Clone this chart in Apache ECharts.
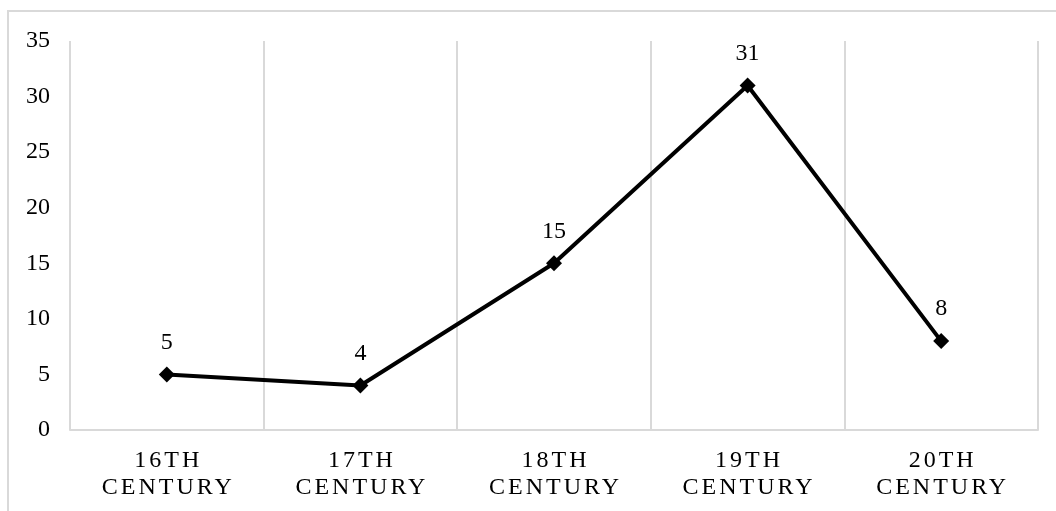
<!DOCTYPE html>
<html>
<head>
<meta charset="utf-8">
<script src="https://cdn.jsdelivr.net/npm/echarts@6/dist/echarts.min.js"></script>
<style>
  html, body { margin: 0; padding: 0; background: #fff; }
  #chart { width: 1056px; height: 511px; }
</style>
</head>
<body>
<div id="chart"></div>
<script>
// Works counted per century
const categories = ['16TH\nCENTURY', '17TH\nCENTURY', '18TH\nCENTURY', '19TH\nCENTURY', '20TH\nCENTURY'];
const counts = [5, 4, 15, 31, 8];
const yMin = 0;
const yMax = 35;
const yStep = 5;

const FONT = '"Liberation Serif", serif';
const GRID_COLOR = '#d9d9d9';

// Category names are drawn with wider letter spacing; numbers keep normal spacing
const SPACING = 3;
const baseFillText = CanvasRenderingContext2D.prototype.fillText;
CanvasRenderingContext2D.prototype.fillText = function (text, x, y) {
  if (/[A-Z]/.test(String(text)) && 'letterSpacing' in this) {
    this.letterSpacing = SPACING + 'px';
    const shift = this.textAlign === 'center' ? SPACING / 2 : 0;
    if (arguments.length > 3 && arguments[3] != null) {
      baseFillText.call(this, text, x + shift, y, arguments[3]);
    } else {
      baseFillText.call(this, text, x + shift, y);
    }
    this.letterSpacing = '0px';
    return;
  }
  if ('letterSpacing' in this && this.letterSpacing && this.letterSpacing !== '0px') {
    this.letterSpacing = '0px';
  }
  return baseFillText.apply(this, arguments);
};

const chart = echarts.init(document.getElementById('chart'), null, { renderer: 'canvas' });

chart.setOption({
  animation: false,
  backgroundColor: '#fff',
  graphic: [{
    type: 'rect',
    shape: { x: 8, y: 11, width: 1200, height: 700 },
    style: { fill: 'none', stroke: GRID_COLOR, lineWidth: 2 },
    silent: true,
    z: -10
  }],
  grid: { left: 70, right: 18, top: 41, bottom: 81, outerBoundsMode: 'none', containLabel: false },
  xAxis: {
    type: 'category',
    data: categories,
    boundaryGap: true,
    axisLine: { show: true, lineStyle: { color: GRID_COLOR, width: 2 } },
    axisTick: { show: false },
    splitLine: { show: true, lineStyle: { color: GRID_COLOR, width: 2 } },
    axisLabel: {
      color: '#000',
      fontFamily: FONT,
      fontSize: 24,
      lineHeight: 27,
      margin: 17,
      interval: 0
    }
  },
  yAxis: {
    type: 'value',
    min: yMin,
    max: yMax,
    interval: yStep,
    axisLine: { show: false },
    axisTick: { show: false },
    splitLine: { show: false },
    axisLabel: { color: '#000', fontFamily: FONT, fontSize: 24, margin: 20 }
  },
  series: [{
    type: 'line',
    data: counts,
    symbol: 'diamond',
    symbolSize: 16,
    lineStyle: { color: '#000', width: 4 },
    itemStyle: { color: '#000' },
    label: {
      show: true,
      position: 'top',
      distance: 12,
      color: '#000',
      fontFamily: FONT,
      fontSize: 24
    }
  }]
});
</script>
</body>
</html>
